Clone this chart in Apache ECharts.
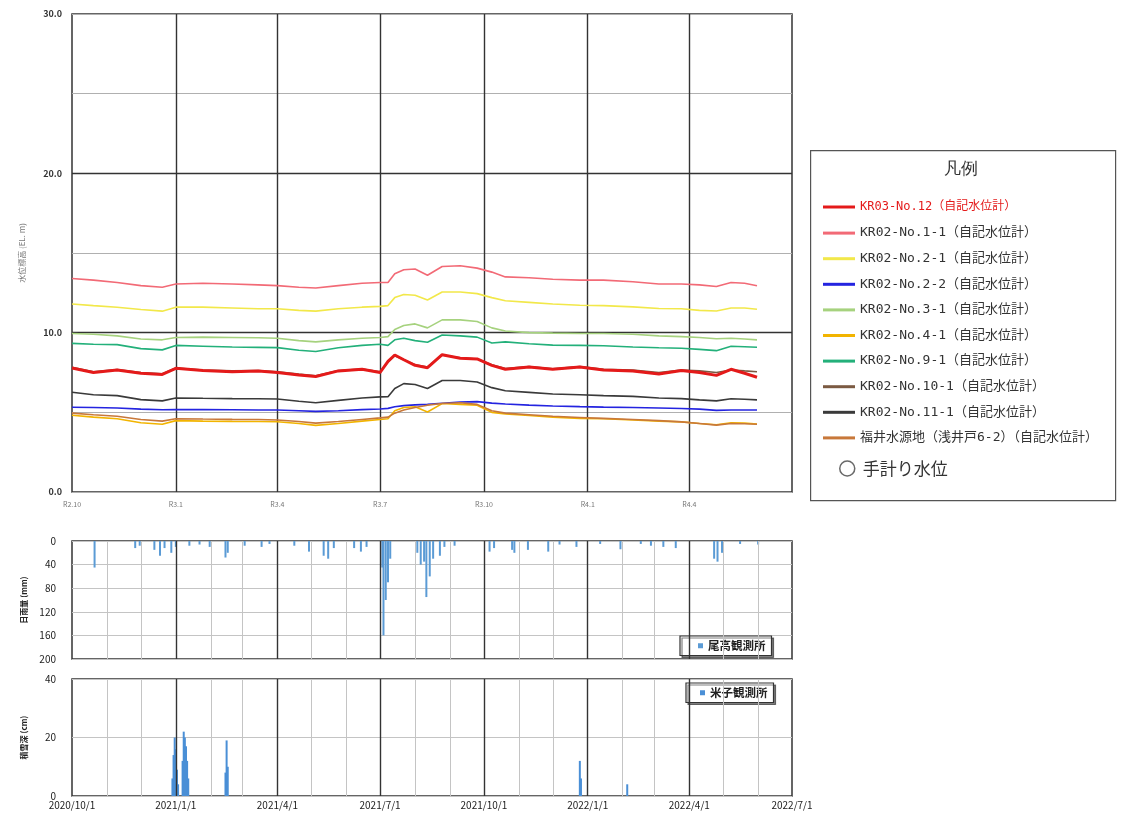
<!DOCTYPE html>
<html><head><meta charset="utf-8">
<script src="https://cdn.jsdelivr.net/npm/echarts@6/dist/echarts.min.js"></script>
<style>html,body{margin:0;padding:0;background:#fff}#c{width:1122px;height:813px}</style>
</head><body><div id="c"></div>
<script>
// ---- DATA ----
const dates = ['2020-10-01','2020-10-20','2020-11-10','2020-12-01','2020-12-20','2021-01-01','2021-01-25','2021-02-20','2021-03-15','2021-04-01','2021-04-20','2021-05-05','2021-05-25','2021-06-15','2021-07-01','2021-07-08','2021-07-14','2021-07-22','2021-08-01','2021-08-12','2021-08-25','2021-09-10','2021-09-25','2021-10-08','2021-10-20','2021-11-10','2021-12-01','2021-12-25','2022-01-15','2022-02-10','2022-03-05','2022-03-25','2022-04-10','2022-04-25','2022-05-08','2022-05-20','2022-05-31'];
const kr03_12 = [7.78,7.5,7.65,7.45,7.38,7.76,7.62,7.55,7.6,7.5,7.35,7.25,7.6,7.7,7.5,8.2,8.6,8.3,7.95,7.8,8.62,8.4,8.35,7.95,7.7,7.85,7.7,7.85,7.65,7.6,7.4,7.62,7.5,7.32,7.7,7.45,7.2];
const kr02_1_1 = [13.4,13.3,13.15,12.95,12.85,13.05,13.1,13.05,13.0,12.95,12.85,12.8,12.95,13.1,13.15,13.15,13.7,13.95,14.0,13.6,14.15,14.2,14.05,13.8,13.5,13.45,13.35,13.3,13.3,13.2,13.05,13.05,13.0,12.9,13.15,13.1,12.95];
const kr02_2_1 = [11.8,11.7,11.6,11.45,11.35,11.6,11.6,11.55,11.5,11.5,11.4,11.35,11.5,11.6,11.65,11.7,12.2,12.4,12.35,12.05,12.55,12.55,12.45,12.2,12.0,11.9,11.8,11.72,11.7,11.62,11.52,11.5,11.4,11.36,11.55,11.55,11.47];
const kr02_2_2 = [5.32,5.3,5.27,5.2,5.16,5.17,5.17,5.16,5.15,5.15,5.1,5.06,5.1,5.17,5.21,5.25,5.35,5.42,5.47,5.5,5.57,5.65,5.67,5.58,5.52,5.45,5.4,5.36,5.33,5.3,5.27,5.24,5.2,5.12,5.15,5.15,5.15];
const kr02_3_1 = [9.95,9.9,9.8,9.6,9.55,9.7,9.72,9.7,9.68,9.65,9.5,9.42,9.55,9.65,9.7,9.75,10.2,10.45,10.55,10.3,10.8,10.8,10.7,10.3,10.1,10.0,9.97,9.95,9.95,9.9,9.8,9.75,9.7,9.62,9.65,9.6,9.55];
const kr02_4_1 = [4.82,4.7,4.6,4.35,4.25,4.48,4.45,4.43,4.42,4.41,4.3,4.18,4.3,4.45,4.55,4.6,5.1,5.3,5.35,5.02,5.55,5.5,5.45,5.0,4.9,4.8,4.7,4.62,4.6,4.52,4.45,4.4,4.3,4.22,4.35,4.32,4.27];
const kr02_9_1 = [9.33,9.27,9.25,9.0,8.92,9.2,9.15,9.1,9.08,9.06,8.9,8.82,9.05,9.2,9.27,9.2,9.55,9.65,9.5,9.4,9.85,9.8,9.72,9.35,9.42,9.3,9.22,9.2,9.18,9.1,9.05,9.02,8.95,8.87,9.15,9.12,9.08];
const kr02_10_1 = [7.82,7.55,7.68,7.5,7.42,7.78,7.65,7.6,7.62,7.54,7.4,7.3,7.62,7.72,7.55,8.15,8.55,8.3,7.98,7.85,8.6,8.42,8.35,7.98,7.75,7.88,7.74,7.87,7.7,7.66,7.5,7.65,7.6,7.5,7.66,7.6,7.55];
const kr02_11_1 = [6.26,6.1,6.05,5.8,5.72,5.9,5.88,5.86,5.85,5.84,5.7,5.6,5.75,5.9,5.97,5.98,6.5,6.8,6.75,6.5,7.0,7.0,6.9,6.55,6.35,6.25,6.15,6.1,6.05,6.0,5.9,5.86,5.78,5.72,5.85,5.82,5.78];
const fukui = [4.95,4.85,4.75,4.55,4.45,4.6,4.58,4.56,4.55,4.52,4.42,4.32,4.42,4.55,4.65,4.7,4.95,5.15,5.3,5.45,5.55,5.6,5.5,5.1,4.95,4.85,4.75,4.68,4.62,4.55,4.48,4.4,4.3,4.2,4.3,4.28,4.25];

const rainDates = ['2020-10-21','2020-11-26','2020-11-30','2020-12-13','2020-12-18','2020-12-22','2020-12-28','2021-01-01','2021-01-13','2021-01-22','2021-01-31','2021-02-14','2021-02-16','2021-03-03','2021-03-18','2021-03-25','2021-04-16','2021-04-29','2021-05-12','2021-05-16','2021-05-21','2021-06-08','2021-06-14','2021-06-19','2021-07-03','2021-07-04','2021-07-06','2021-07-08','2021-07-10','2021-08-03','2021-08-06','2021-08-09','2021-08-11','2021-08-14','2021-08-17','2021-08-23','2021-08-27','2021-09-05','2021-10-06','2021-10-10','2021-10-26','2021-10-28','2021-11-09','2021-11-27','2021-12-07','2021-12-22','2022-01-12','2022-01-30','2022-02-17','2022-02-26','2022-03-09','2022-03-20','2022-04-23','2022-04-26','2022-04-30','2022-05-16','2022-06-01'];
const rainValues = [45,12,8,15,25,12,20,10,8,6,10,28,20,8,10,5,8,18,25,30,12,12,18,10,45,160,100,70,30,20,40,35,95,60,30,25,10,8,18,12,15,20,15,18,6,10,5,14,5,8,10,12,30,35,20,5,6];

const snowDates = ['2020-12-29','2020-12-30','2020-12-31','2021-01-01','2021-01-02','2021-01-03','2021-01-07','2021-01-08','2021-01-09','2021-01-10','2021-01-11','2021-01-12','2021-02-14','2021-02-15','2021-02-16','2021-12-25','2021-12-26','2022-02-05'];
const snowValues = [6,14,20,16,9,4,12,22,20,17,12,6,8,19,10,12,6,4];

const quarterDates = ['2020-10-01','2021-01-01','2021-04-01','2021-07-01','2021-10-01','2022-01-01','2022-04-01','2022-07-01'];
const topTickLabels = ['R2.10','R3.1','R3.4','R3.7','R3.10','R4.1','R4.4',''];
const bottomTickLabels = ['2020/10/1','2021/1/1','2021/4/1','2021/7/1','2021/10/1','2022/1/1','2022/4/1','2022/7/1'];
const monthDates = ['2020-11-01','2020-12-01','2021-02-01','2021-03-01','2021-05-01','2021-06-01','2021-08-01','2021-09-01','2021-11-01','2021-12-01','2022-02-01','2022-03-01','2022-05-01','2022-06-01'];

const seriesNames = ['KR03-No.12（自記水位計）','KR02-No.1-1（自記水位計）','KR02-No.2-1（自記水位計）','KR02-No.2-2（自記水位計）','KR02-No.3-1（自記水位計）','KR02-No.4-1（自記水位計）','KR02-No.9-1（自記水位計）','KR02-No.10-1（自記水位計）','KR02-No.11-1（自記水位計）','福井水源地（浅井戸6-2）（自記水位計）'];
const seriesColors = ['#e41a1a','#f26a76','#f2e84a','#2424e0','#a6d27e','#f2b400','#23b07a','#7b5a42','#3a3a3a','#c8783a'];
const seriesValues = [kr03_12,kr02_1_1,kr02_2_1,kr02_2_2,kr02_3_1,kr02_4_1,kr02_9_1,kr02_10_1,kr02_11_1,fukui];

// ---- CHART ----
function ts(s){const p=s.split('-').map(Number);return Date.UTC(p[0],p[1]-1,p[2]);}
const tMin = ts(quarterDates[0]), tMax = ts(quarterDates[quarterDates.length-1]);
const qTs = quarterDates.map(ts);
const FONT = '"Noto Sans CJK JP","Noto Sans",sans-serif';
const MONO = '"DejaVu Sans Mono","Noto Sans CJK JP",monospace';

const chart = echarts.init(document.getElementById('c'));
const lineSeries = seriesNames.map((n,i)=>({
  name:n, type:'line', xAxisIndex:0, yAxisIndex:0, showSymbol:false, symbol:'none',
  data: dates.map((d,j)=>[ts(d), seriesValues[i][j]]),
  lineStyle:{color:seriesColors[i], width: i===0?3:1.6}, itemStyle:{color:seriesColors[i]},
  z: i===0?6:(i===7?4:5), animation:false
}));
function gridLines(xi, withMonths, extra){
  const data=[];
  if(withMonths) monthDates.forEach(d=>data.push({xAxis:ts(d), lineStyle:{color:'#c4c4c4', width:1}}));
  quarterDates.slice(1,-1).forEach(d=>data.push({xAxis:ts(d), lineStyle:{color:'#333', width:1.4}}));
  (extra||[]).forEach(v=>data.push({yAxis:v, lineStyle:{color:'#333', width:1.4}}));
  return {type:'line', name:'_g'+xi, xAxisIndex:xi, yAxisIndex:xi, data:[], z:1, silent:true, animation:false,
    markLine:{symbol:'none', silent:true, animation:false, label:{show:false}, lineStyle:{type:'solid'}, data}};
}

const option = {
  animation:false,
  textStyle:{fontFamily:FONT},
  grid:[
    {left:72, top:14, width:720, height:478, show:true, borderColor:'#333', borderWidth:1.5, backgroundColor:'transparent'},
    {left:72, top:541, width:720, height:118, show:true, borderColor:'#333', borderWidth:1.5, backgroundColor:'transparent'},
    {left:72, top:679, width:720, height:117, show:true, borderColor:'#333', borderWidth:1.5, backgroundColor:'transparent'}
  ],
  xAxis:[0,1,2].map(i=>({
    type:'value', gridIndex:i, min:tMin, max:tMax, scale:true,
    axisLine:{show:false}, axisTick:{show:false}, splitLine:{show:false},
    axisLabel: i===1 ? {show:false} : {
      show:true, customValues: i===0 ? qTs.slice(0,-1) : qTs, hideOverlap:false,
      showMinLabel:true, showMaxLabel:true,
      fontSize: i===0?7:10, color: i===0?'#777':'#222', margin: i===0?9:4,
      formatter: v => { const k=qTs.indexOf(v); return k<0?'':(i===0?topTickLabels[k]:bottomTickLabels[k]); }
    }
  })),
  yAxis:[
    {type:'value', gridIndex:0, min:0, max:30, interval:5,
     name:'水位標高 (EL. m)', nameLocation:'middle', nameRotate:90, nameGap:46,
     nameTextStyle:{fontSize:8, color:'#777'},
     axisLine:{show:false}, axisTick:{show:false},
     splitLine:{show:true, lineStyle:{color:'#b0b0b0', width:1}},
     axisLabel:{fontSize:9, color:'#333', fontWeight:'bold', margin:10, formatter:v=> v%10===0 ? v.toFixed(1) : ''}},
    {type:'value', gridIndex:1, min:0, max:200, interval:40, inverse:true,
     name:'日雨量 (mm)', nameLocation:'middle', nameRotate:90, nameGap:44,
     nameTextStyle:{fontSize:8, color:'#222', fontWeight:'bold'},
     axisLine:{show:false}, axisTick:{show:false},
     splitLine:{show:true, lineStyle:{color:'#c4c4c4', width:1}},
     axisLabel:{fontSize:10, color:'#222', margin:16}},
    {type:'value', gridIndex:2, min:0, max:40, interval:20,
     name:'積雪深 (cm)', nameLocation:'middle', nameRotate:90, nameGap:44,
     nameTextStyle:{fontSize:8, color:'#222', fontWeight:'bold'},
     axisLine:{show:false}, axisTick:{show:false},
     splitLine:{show:true, lineStyle:{color:'#c4c4c4', width:1}},
     axisLabel:{fontSize:10, color:'#222', margin:16}}
  ],
  legend:[
    {orient:'vertical', left:818, top:195, itemWidth:32, itemHeight:3, itemGap:12.6, icon:'rect',
     textStyle:{fontSize:13, color:'#333', fontFamily:MONO, padding:[0,0,0,0]},
     data: seriesNames.map((n,i)=> i===0 ? {name:n, textStyle:{color:'#e41a1a', fontSize:12, lineHeight:14}} : {name:n})},
    {orient:'vertical', left:834, top:455, itemWidth:15, itemHeight:15,
     textStyle:{fontSize:17, color:'#333', fontFamily:FONT, padding:[0,0,0,3]},
     data:[{name:'手計り水位', icon:'circle', itemStyle:{color:'#fff', borderColor:'#444', borderWidth:1.5}}]},
    {left:680, top:636, itemWidth:5, itemHeight:5, icon:'rect', padding:[4,6,4,18],
     borderColor:'#333', borderWidth:1.2, backgroundColor:'#fff',
     shadowColor:'rgba(0,0,0,0.5)', shadowOffsetX:2, shadowOffsetY:2, shadowBlur:0,
     textStyle:{fontSize:11.5, color:'#222', fontFamily:FONT, fontWeight:'bold'}, data:['尾高観測所']},
    {left:686, top:683, itemWidth:5, itemHeight:5, icon:'rect', padding:[4,6,4,14],
     borderColor:'#333', borderWidth:1.2, backgroundColor:'#fff',
     shadowColor:'rgba(0,0,0,0.5)', shadowOffsetX:2, shadowOffsetY:2, shadowBlur:0,
     textStyle:{fontSize:11.5, color:'#222', fontFamily:FONT, fontWeight:'bold'}, data:['米子観測所']}
  ],
  graphic:[
    {type:'rect', left:810, top:150, shape:{width:305, height:350}, style:{fill:'#fff', stroke:'#555', lineWidth:1.2}, z:-10},
    {type:'text', left:944, top:161, style:{text:'凡例', fontSize:17, fill:'#333', font:'17px '+FONT}, z:-5}
  ],
  series:[
    gridLines(0,false,[10,20]),
    gridLines(1,true,[]),
    gridLines(2,true,[]),
    ...lineSeries,
    {name:'手計り水位', type:'scatter', xAxisIndex:0, yAxisIndex:0, data:[], symbol:'emptyCircle', itemStyle:{color:'#444'}},
    {name:'尾高観測所', type:'bar', xAxisIndex:1, yAxisIndex:1, barWidth:2, barGap:'-100%',
     itemStyle:{color:'#5b9bd5'}, data: rainDates.map((d,i)=>[ts(d), rainValues[i]]), z:3},
    {name:'米子観測所', type:'bar', xAxisIndex:2, yAxisIndex:2, barWidth:2, barGap:'-100%',
     itemStyle:{color:'#4a8fd6'}, data: snowDates.map((d,i)=>[ts(d), snowValues[i]]), z:3}
  ]
};
chart.setOption(option);
</script></body></html>
